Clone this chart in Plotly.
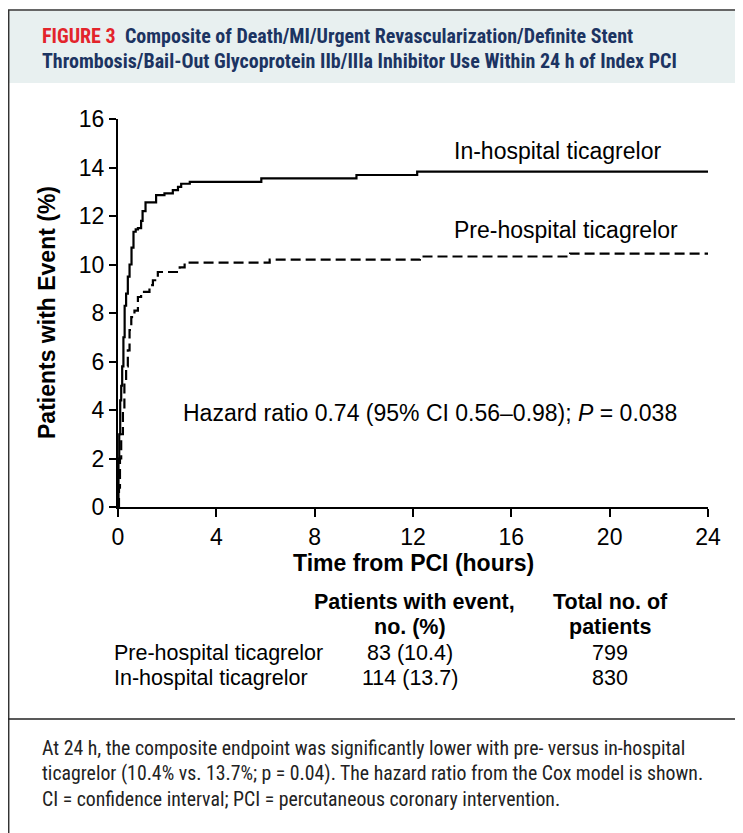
import plotly.graph_objects as go

# ---------------- data ----------------
in_hosp_t = [0, 0.02, 0.05, 0.09, 0.13, 0.17, 0.22, 0.27, 0.33, 0.40, 0.47, 0.55, 0.63, 0.72,
             0.81, 0.94, 1.00, 1.12, 1.55, 1.89, 2.23, 2.44, 2.57, 2.92, 5.83, 9.70, 12.17, 24]
in_hosp_v = [0, 2.0, 3.0, 4.4, 5.0, 5.8, 7.0, 8.3, 8.8, 9.5, 10.0, 10.7, 11.35, 11.45,
             11.5, 11.8, 12.2, 12.56, 12.86, 12.93, 13.07, 13.2, 13.33, 13.41, 13.55, 13.69, 13.83, 13.83]

pre_hosp_t = [0, 0.04, 0.08, 0.13, 0.20, 0.26, 0.33, 0.40, 0.47, 0.54, 0.67, 0.81, 0.94,
              1.28, 1.42, 1.62, 2.51, 2.71, 6.17, 12.28, 18.39, 24]
pre_hosp_v = [0, 0.8, 2.0, 3.0, 4.0, 5.1, 5.8, 6.46, 7.3, 7.83, 8.1, 8.66, 8.87,
              9.15, 9.35, 9.69, 9.88, 10.08, 10.2, 10.33, 10.45, 10.45]

x_ticks = [0, 4, 8, 12, 16, 20, 24]
y_ticks = [0, 2, 4, 6, 8, 10, 12, 14, 16]

groups = ["Pre-hospital ticagrelor", "In-hospital ticagrelor"]
events = ["83 (10.4)", "114 (13.7)"]
totals = ["799", "830"]

title_red = "FIGURE 3"
title_l1 = "Composite of Death/MI/Urgent Revascularization/Definite Stent"
title_l2 = "Thrombosis/Bail-Out Glycoprotein IIb/IIIa Inhibitor Use Within 24 h of Index PCI"
caption = ["At 24 h, the composite endpoint was significantly lower with pre- versus in-hospital",
           "ticagrelor (10.4% vs. 13.7%; p = 0.04). The hazard ratio from the Cox model is shown.",
           "CI = confidence interval; PCI = percutaneous coronary intervention."]

# ---------------- layout geometry (page pixels; page body has 8px margin) ----------------
OFF = 8
W, H = 743 - OFF, 833 - OFF
L, R, T, B = 118, 708, 119, 507   # plot area in page pixels


def px(x):
    return (x - L) / (R - L)


def py(y):
    return (B - y) / (B - T)


ARIAL = "Liberation Sans, Arial, sans-serif"
COND = "Liberation Sans Narrow, Roboto Condensed, DejaVu Sans Condensed, Liberation Sans, sans-serif"

fig = go.Figure()
fig.add_trace(go.Scatter(x=in_hosp_t, y=in_hosp_v, mode="lines", line_shape="hv",
                         line=dict(color="black", width=2.2), showlegend=False, cliponaxis=False))
fig.add_trace(go.Scatter(x=pre_hosp_t, y=pre_hosp_v, mode="lines", line_shape="hv",
                         line=dict(color="black", width=2.2, dash="10px,5px"),
                         showlegend=False, cliponaxis=False))

ann = []


def A(text, x, y, size=20, anchor="center", bold=False, font=ARIAL, color="black", yanchor="middle", angle=0):
    if bold:
        text = "<b>" + text + "</b>"
    ann.append(dict(text=text, x=px(x), y=py(y), xref="paper", yref="paper", showarrow=False,
                    xanchor=anchor, yanchor=yanchor, textangle=angle,
                    font=dict(size=size, family=font, color=color)))


# title
A("<span style='color:#e3242b'>" + title_red + "</span>&nbsp;&nbsp;" + title_l1, 40, 36, size=20,
  anchor="left", bold=True, font=COND, color="#1c3462")
A(title_l2, 40, 61, size=20, anchor="left", bold=True, font=COND, color="#1c3462")

# chart labels
A("In-hospital ticagrelor", 557, 151, size=23)
A("Pre-hospital ticagrelor", 566, 230, size=23)
A("Hazard ratio 0.74 (95% CI 0.56–0.98); <i>P</i> = 0.038", 430, 413, size=23)
A("Time from PCI (hours)", 413, 563, size=23, bold=True)
A("Patients with Event (%)", 47, 313, size=23, bold=True, angle=-90)

# table
A("Patients with event,", 415, 602, size=21.5, bold=True)
A("no. (%)", 410, 627, size=21.5, bold=True)
A("Total no. of", 610, 602, size=21.5, bold=True)
A("patients", 610, 627, size=21.5, bold=True)
for i, (g, e, t) in enumerate(zip(groups, events, totals)):
    yy = 653 + 25 * i
    A(g, 112, yy, size=21.5, anchor="left")
    A(e, 410, yy, size=21.5)
    A(t, 610, yy, size=21.5)

# caption
for i, line in enumerate(caption):
    A(line, 40, 748 + 25.5 * i, size=19.8, anchor="left", font=COND, color="#222222")

shapes = [
    dict(type="rect", xref="paper", yref="paper", x0=px(8), x1=px(760), y0=py(11), y1=py(83),
         fillcolor="#e8f0f0", line=dict(width=0), layer="below"),
    dict(type="line", xref="paper", yref="paper", x0=px(8), x1=px(760), y0=py(10), y1=py(10),
         line=dict(color="#333333", width=1.5)),
    dict(type="line", xref="paper", yref="paper", x0=px(8.7), x1=px(8.7), y0=py(10), y1=py(840),
         line=dict(color="#333333", width=1.5)),
    dict(type="line", xref="paper", yref="paper", x0=px(8), x1=px(760), y0=py(719), y1=py(719),
         line=dict(color="#222222", width=1.5)),
]

fig.update_layout(
    width=W, height=H, autosize=False,
    margin=dict(l=L - OFF, r=(743 - OFF) - (R - OFF), t=T - OFF, b=(833 - OFF) - (B - OFF), pad=0),
    paper_bgcolor="white", plot_bgcolor="white",
    annotations=ann, shapes=shapes,
    xaxis=dict(range=[0, 24], tickvals=x_ticks, ticks="outside", ticklen=8, tickwidth=2,
               tickcolor="black", showline=True, linecolor="black", linewidth=2,
               showgrid=False, zeroline=False, fixedrange=True,
               tickfont=dict(size=23, family=ARIAL, color="black")),
    yaxis=dict(range=[0, 16], tickvals=y_ticks, ticks="outside", ticklen=7, tickwidth=2,
               tickcolor="black", showline=True, linecolor="black", linewidth=2,
               showgrid=False, zeroline=False, fixedrange=True,
               tickfont=dict(size=23, family=ARIAL, color="black")),
)

fig.write_html("out.html")
